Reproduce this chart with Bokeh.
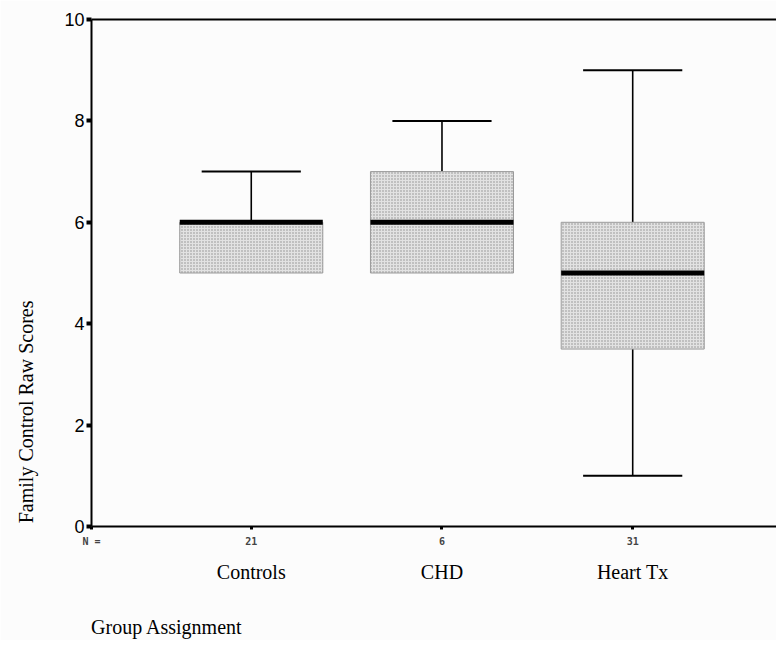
from bokeh.plotting import figure
from bokeh.models import Range1d, LinearAxis, FixedTicker, ColumnDataSource
from bokeh.embed import file_html
from bokeh.resources import INLINE
import math

# ---- data ----
groups = ["Controls", "CHD", "Heart Tx"]
n_counts = [21, 6, 31]
mins = [5, 5, 1]
q1 = [5, 5, 3.5]
medians = [6, 6, 5]
q3 = [6, 7, 6]
maxs = [7, 8, 9]
y_ticks = [0, 2, 4, 6, 8, 10]
x_title = "Group Assignment"
y_title = "Family Control Raw Scores"

pos = [1, 2, 3]
x_left, x_right = 0.1623, 3.754
box_w = 0.75
cap_w = 0.52
px_per_x = 191.0
px_per_y = 50.7

bg = "#fcfcfc"
p = figure(width=776, height=640, x_range=Range1d(x_left, x_right), y_range=Range1d(0, 10),
           output_backend="svg", toolbar_location=None,
           min_border_left=90, min_border_right=0, min_border_top=19, min_border_bottom=114,
           x_axis_location=None, y_axis_location=None)
p.background_fill_color = bg
p.border_fill_color = bg
p.outline_line_color = None
p.xgrid.visible = False
p.ygrid.visible = False

src = ColumnDataSource(dict(x=pos, mins=mins, q1=q1, med=medians, q3=q3, maxs=maxs,
                            left=[v - box_w / 2 for v in pos], right=[v + box_w / 2 for v in pos],
                            cl=[v - cap_w / 2 for v in pos], cr=[v + cap_w / 2 for v in pos]))
# lower whiskers only where the minimum lies below Q1
lo = [i for i in range(len(pos)) if mins[i] < q1[i]]
src_lo = ColumnDataSource(dict(x=[pos[i] for i in lo], mins=[mins[i] for i in lo], q1=[q1[i] for i in lo],
                               cl=[pos[i] - cap_w / 2 for i in lo], cr=[pos[i] + cap_w / 2 for i in lo]))

# whiskers
p.segment(x0="x", y0="q3", x1="x", y1="maxs", source=src, line_color="black", line_width=1.6)
p.segment(x0="cl", y0="maxs", x1="cr", y1="maxs", source=src, line_color="black", line_width=2)
p.segment(x0="x", y0="mins", x1="x", y1="q1", source=src_lo, line_color="black", line_width=1.6)
p.segment(x0="cl", y0="mins", x1="cr", y1="mins", source=src_lo, line_color="black", line_width=2)
# boxes
p.quad(left="left", right="right", bottom="q1", top="q3", source=src,
       fill_color="#e2e2e2", hatch_pattern=".", hatch_color="#8c8c8c", hatch_scale=3,
       hatch_weight=1, line_color="#9a9a9a", line_width=1)
# medians
p.segment(x0="left", y0="med", x1="right", y1="med", source=src, line_color="black", line_width=5)


def bare_axis(ticks, labels, standoff, font, size, style="normal"):
    ax = LinearAxis(ticker=FixedTicker(ticks=ticks),
                    major_label_overrides={t: l for t, l in zip(ticks, labels)})
    ax.axis_line_color = None
    ax.major_tick_line_color = None
    ax.minor_tick_line_color = None
    ax.major_tick_out = 0
    ax.major_tick_in = 0
    ax.major_label_standoff = standoff
    ax.major_label_text_font = font
    ax.major_label_text_font_size = size
    ax.major_label_text_font_style = style
    ax.major_label_text_color = "black"
    return ax


# y axis
yax = LinearAxis(ticker=FixedTicker(ticks=y_ticks))
yax.axis_line_width = 2
yax.axis_line_color = "black"
yax.major_tick_out = 5
yax.major_tick_in = 0
yax.major_tick_line_width = 4
yax.minor_tick_line_color = None
yax.major_label_standoff = 2
yax.major_label_text_font = "Liberation Sans"
yax.major_label_text_font_size = "18px"
yax.major_label_text_color = "black"
p.add_layout(yax, "left")

# y title (rotated, lower part of the axis)
ytit = bare_axis([(526 - 300) / px_per_y], [y_title], 36, "Liberation Serif", "20px")
ytit.major_label_orientation = math.pi / 2
p.add_layout(ytit, "left")

# top border
tax = LinearAxis(ticker=FixedTicker(ticks=[]))
tax.axis_line_width = 2
tax.axis_line_color = "black"
tax.major_tick_line_color = None
tax.minor_tick_line_color = None
tax.major_label_text_font_size = "0px"
p.add_layout(tax, "above")

# bottom axis with N counts
overrides = {x_left: "N ="}
for xi, c in zip(pos, n_counts):
    overrides[xi] = str(c)
xax = LinearAxis(ticker=FixedTicker(ticks=[x_left] + pos), major_label_overrides=overrides)
xax.axis_line_width = 2
xax.axis_line_color = "black"
xax.major_tick_out = 3
xax.major_tick_in = 0
xax.major_tick_line_width = 3
xax.minor_tick_line_color = None
xax.major_label_standoff = 6
xax.major_label_text_font = "DejaVu Sans Mono"
xax.major_label_text_font_style = "bold"
xax.major_label_text_font_size = "10px"
p.add_layout(xax, "below")

# category names
cax = bare_axis(pos, groups, 11, "Liberation Serif", "20px")
p.add_layout(cax, "below")

# x title (left part of the axis)
xtit = bare_axis([x_left + 75.5 / px_per_x], [x_title], 30, "Liberation Serif", "20px")
p.add_layout(xtit, "below")

open("out.html", "w").write(file_html(p, INLINE))
